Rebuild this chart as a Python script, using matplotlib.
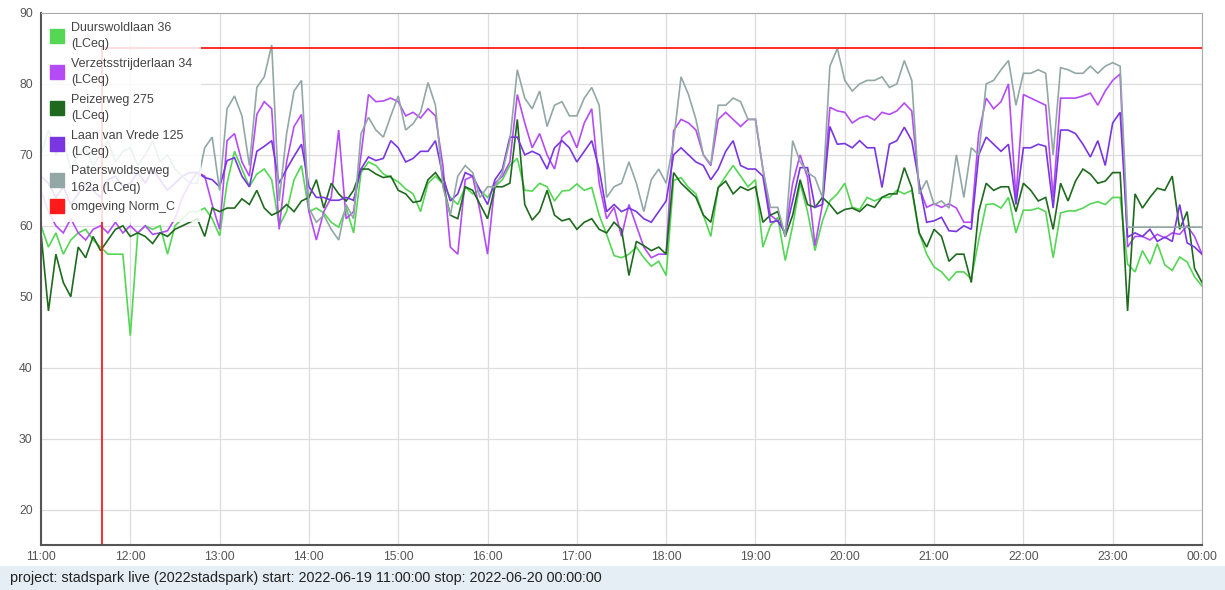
import numpy as np
import pandas as pd
import matplotlib
matplotlib.use("Agg")
import matplotlib.pyplot as plt
import matplotlib.dates as mdates
from matplotlib.lines import Line2D
from matplotlib.patches import Rectangle

plt.rcParams['font.family'] = ['Liberation Sans', 'DejaVu Sans']

# 5-minute samples, 11:00 -> 00:00
times = pd.date_range("2022-06-19 11:00", "2022-06-20 00:00", freq="5min")

duurswoldlaan = [
    60, 57, 59, 56, 58, 59, 59.5, 58, 57, 56, 56, 56,
    44.5, 59, 60, 59.5, 60, 56, 60, 61, 62, 62, 62.5, 61,
    58.6, 66, 70.5, 68, 65.5, 67.3, 68, 66.5, 60, 62, 66.5, 68.5,
    62, 62.5, 61.8, 60.5, 59.8, 62.6, 59, 67.5, 69, 68.5, 67.3, 66.8,
    66.2, 65.2, 64.5, 62, 66, 67, 65.9, 64, 63, 65.5, 64.5, 65,
    64, 65.5, 66.5, 68.5, 69.5, 65, 64.9, 66, 65.5, 63.5, 64.9, 65,
    65.9, 65, 65.4, 61.5, 58.8, 55.8, 55.5, 56, 57, 55.5, 54.3, 55,
    53, 66.4, 66.8, 65.4, 64.5, 61.5, 58.5, 65.4, 67, 68.5, 67, 65.5,
    66.5, 57, 60, 61.2, 55.1, 60, 66, 62, 56.5, 60.7, 63.5, 64.5,
    66, 62.6, 62.3, 64, 63.5, 64, 64, 65, 64.5, 65, 59, 56,
    54.2, 53.5, 52.3, 53.5, 53.5, 52.5, 58, 63, 63.1, 62.5, 64, 59,
    62.2, 62.2, 62.5, 62, 55.5, 61.8, 62.1, 62.1, 62.5, 63.1, 63.4, 63,
    64, 64, 54.6, 53.5, 56.5, 54.6, 57.5, 54.5, 53.7, 55.6, 54.9, 52.8,
    51.5,
]

verzetsstrijderlaan = [
    65, 62, 60, 59, 61, 59, 58, 59.5, 60, 59, 60.5, 59,
    60, 59, 60, 58.8, 59, 59.3, 61, 64, 66, 67.5, 67, 63,
    59.5, 72, 73, 69, 67, 75.7, 77.5, 76.5, 59.5, 69, 74, 75.7,
    62, 58, 62, 64, 73.5, 61, 62, 70, 78.5, 77.5, 77.6, 78,
    77.5, 75.5, 76, 75.2, 76.5, 75.5, 68.5, 57, 56, 66.5, 67, 62,
    56, 66, 67, 69, 78.5, 74.5, 71, 73, 70, 68, 72.5, 73.4,
    71, 74.5, 76.5, 66, 61, 62.6, 58.5, 63, 60, 57, 55.5, 56,
    56, 73.4, 75, 74.5, 73.5, 70, 68.5, 75, 76, 75, 74, 75,
    75, 68, 61.5, 60.7, 59, 66, 70, 66.8, 57.2, 63, 76.7, 76.2,
    76, 74.5, 75.2, 75.5, 74.9, 76, 75.7, 76.2, 77.3, 76.2, 65.4, 62.6,
    63.1, 62.6, 63.1, 62.5, 60.5, 60.5, 73, 78, 76.5, 77.5, 80, 64,
    78.5, 78, 77.5, 77, 64, 78, 78, 78, 78.3, 78.7, 77, 79,
    80.5, 81.4, 57, 58.5, 58.5, 58, 58.8, 58.3, 59, 58.8, 60, 58.5,
    56,
]

peizerweg = [
    59, 48, 56, 52, 50, 57, 55.5, 58.5, 56.5, 58, 59.5, 60,
    58.5, 59, 58.5, 57.5, 59, 58.5, 59.5, 60, 60.5, 61, 58.5, 62.5,
    62, 62.5, 62.5, 63.8, 63, 65, 62.5, 61.5, 62, 63, 62, 63.5,
    64, 66.5, 62.5, 66, 64.5, 63.5, 65, 68, 68, 67.3, 66.8, 67,
    65, 64.5, 63.3, 63.5, 66.5, 67.5, 66, 61.5, 61, 65.5, 65, 63,
    61, 65.5, 65.5, 66, 75, 63, 60.8, 62, 65, 61.5, 60.7, 61,
    59.5, 60.5, 61, 59.5, 59, 60.5, 59.5, 53, 57.8, 57.2, 56.5, 57,
    56, 67.5, 66, 65, 64, 61.5, 60.5, 65.4, 66.3, 64.5, 65.5, 65,
    65.5, 60.5, 61.5, 62, 58.5, 61.5, 66.5, 63, 62.6, 64, 63, 61.7,
    62.3, 62.5, 62, 63, 62.6, 64, 64.5, 64.5, 68.2, 65.4, 59, 57,
    59.5, 58.5, 55, 56, 56, 52, 62, 66, 65, 65.5, 65.5, 62,
    66, 65, 63.5, 64, 59.5, 66, 63.5, 66.3, 68, 67.3, 66, 66.3,
    67.5, 67.5, 48, 64.5, 62.5, 64, 65.3, 65, 67, 59.5, 62, 54,
    52,
]

laan_van_vrede = [
    67, 66, 64, 65.5, 63, 64.5, 66, 65, 64, 66.5, 67, 65.5,
    66, 67.5, 66, 68, 66.5, 65, 66, 67, 67.5, 67.5, 66.8, 66.5,
    65.5, 69.2, 69.6, 67, 65.5, 70.5, 71.2, 72, 66, 68, 69.8, 71.5,
    65.5, 64, 64, 63.6, 63.6, 64, 63.6, 68, 69.7, 69.2, 69.5, 72,
    71, 69, 69.5, 70.5, 70.5, 72, 67, 63.5, 64.5, 67.5, 67, 65,
    63, 66.5, 68, 72.5, 72.5, 70, 70.5, 70, 68, 71, 72, 71,
    69, 70.5, 72, 68, 62, 63, 62, 62.5, 62, 61, 60.5, 62,
    63.5, 70, 71, 70, 69, 68.5, 66.5, 68, 70.5, 72, 68.5, 68,
    68, 67, 60.5, 60.7, 59, 63.5, 68.2, 68.2, 62.6, 63, 74, 71.5,
    71.6, 71, 72, 71, 71, 65.4, 71.5, 72, 73.9, 72, 66, 60.5,
    60.7, 61.2, 59.3, 59.2, 60, 59.5, 70, 72.5, 71.5, 70.5, 71.5, 63,
    71, 71, 71.5, 71.2, 62.5, 73.5, 73.5, 73, 71.5, 69.7, 72, 68.5,
    74.5, 76, 58.4, 59, 58.5, 59.5, 57.8, 58.4, 57.8, 63, 57.6, 57,
    56,
]

paterswoldseweg = [
    70, 73.5, 70, 72, 68, 70, 71, 68.5, 70, 72, 69, 70.5,
    71, 68.5, 70, 72, 69, 70, 68, 67, 66, 66, 71, 72.5,
    65, 76.5, 78.3, 75.5, 68.5, 79.5, 81, 85.5, 63.5, 73, 79, 80.5,
    62.5, 60.5, 61.5, 59.5, 58, 63, 61, 73, 75.3, 73.5, 72.5, 75.5,
    78.3, 73.5, 74.4, 76, 80.2, 77, 65.5, 61.5, 67, 68.5, 67.5, 64,
    65.5, 65.5, 67.5, 72, 82, 78, 76.5, 79, 74, 77, 77.5, 75.5,
    75.5, 78, 79.5, 77, 64, 65.5, 66, 69, 66, 62, 66.5, 68,
    66, 72, 81, 78.5, 75, 70, 68.7, 77, 77, 78, 77.5, 75,
    75, 68, 62.6, 62.6, 58.5, 72, 69, 67.5, 66.8, 64, 82.5, 85,
    80.5, 79, 80, 80.5, 80.5, 81, 79.5, 80, 83.3, 80.5, 64.5, 66.4,
    63, 63.5, 62.5, 70, 64, 71, 70, 80, 80.5, 82, 83.3, 77,
    81.5, 81.5, 82, 81.5, 70, 82.3, 82, 81.5, 81.5, 82.5, 81.5, 82.5,
    83, 82.5, 59.8, 59.8, 59.8, 59.8, 59.8, 59.8, 59.8, 59.8, 59.8, 59.8,
    59.8,
]

norm_level = 85
norm_start = pd.Timestamp("2022-06-19 11:41")

labels = [
    "Duurswoldlaan 36\n(LCeq)",
    "Verzetsstrijderlaan 34\n(LCeq)",
    "Peizerweg 275\n(LCeq)",
    "Laan van Vrede 125\n(LCeq)",
    "Paterswoldseweg\n162a (LCeq)",
    "omgeving Norm_C",
]
colors = ["#55d655", "#b44cf5", "#1f6a1f", "#7a36e0", "#93a7a7", "#ff1a1a"]
series = [duurswoldlaan, verzetsstrijderlaan, peizerweg, laan_van_vrede, paterswoldseweg]

fig = plt.figure(figsize=(12.25, 5.9), dpi=100)
ax = fig.add_axes([41 / 1225, 45 / 590, 1161 / 1225, 532 / 590])

for values, color in zip(series, colors):
    ax.plot(times, values, color=color, lw=1.2, solid_joinstyle="miter")

# norm line: step up to the norm level at the start time
norm_times = pd.DatetimeIndex([times[0], norm_start, times[-1]])
norm = np.where(norm_times >= norm_start, norm_level, 0.0)
ax.plot(norm_times, norm, color=colors[-1], lw=1.3, drawstyle="steps-post")

ax.set_xlim(times[0], times[-1])
ax.set_ylim(15, 90)
ax.set_yticks(range(20, 91, 10))
ax.xaxis.set_major_locator(mdates.HourLocator())
ax.xaxis.set_major_formatter(mdates.DateFormatter("%H:%M"))

ax.grid(True, color="#dddddd", lw=0.9)
ax.set_axisbelow(True)
ax.tick_params(length=0, labelsize=8.8, colors="#555555")
ax.tick_params(axis="y", pad=6)
ax.tick_params(axis="x", pad=4)
for side in ("left", "bottom"):
    ax.spines[side].set_color("#555555")
    ax.spines[side].set_linewidth(1.5)
for side in ("top", "right"):
    ax.spines[side].set_color("#aaaaaa")
    ax.spines[side].set_linewidth(0.8)

handles = [Line2D([], [], ls="", marker="s", ms=9.5, mfc=c, mec=c) for c in colors]
leg = ax.legend(handles, labels, loc="upper left", bbox_to_anchor=(0.001, 0.999),
                frameon=True, fancybox=False, framealpha=0.85, facecolor="white",
                edgecolor="none", fontsize=9, labelcolor="#444444",
                handlelength=1.0, handletextpad=0.6, labelspacing=0.62,
                borderpad=0.7, borderaxespad=0)
for t in leg.get_texts():
    t.set_linespacing(1.45)

# footer band with project info
fig.add_artist(Rectangle((0, 0), 1, 24 / 590, transform=fig.transFigure,
                         facecolor="#e6eef5", edgecolor="none", zorder=0))
fig.text(10 / 1225, 12 / 590, "project: stadspark live (2022stadspark) start: 2022-06-19 11:00:00 stop: 2022-06-20 00:00:00",
         fontsize=10.4, color="#222222", va="center", ha="left")

fig.savefig("out.png", dpi=100)
